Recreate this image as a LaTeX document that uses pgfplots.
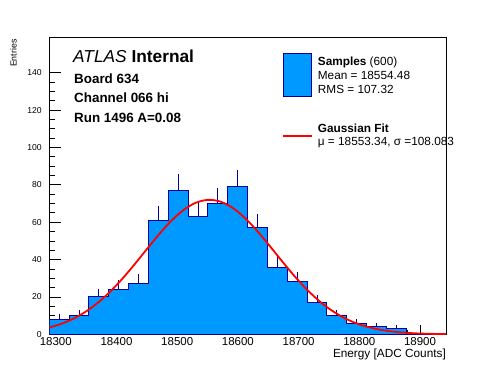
\documentclass[border=0pt]{standalone}
\usepackage{fontspec}
\setmainfont{Liberation Sans}
\usepackage{pgfplots}
\pgfplotsset{compat=1.18}
\definecolor{histfill}{RGB}{0,153,255}
\definecolor{histline}{RGB}{0,0,153}
\begin{document}
\begin{tikzpicture}
\path[use as bounding box] (0,0) rectangle (496bp,372bp);
\begin{axis}[
  at={(49.3bp,37.7bp)}, anchor=south west,
  scale only axis, width=396.7bp, height=297bp,
  xmin=18289.3, xmax=18942.8, ymin=0, ymax=159,
  axis line style={line width=0.8bp},
  tick align=inside, xtick pos=bottom, ytick pos=left,
  xtick={18300,18400,18500,18600,18700,18800,18900},
  ytick={0,20,40,60,80,100,120,140},
  minor x tick num=4, minor y tick num=3,
  major tick length=12bp, minor tick length=6bp,
  xtick style={/pgfplots/major tick length=9bp, /pgfplots/minor tick length=4.5bp},
  every tick/.style={black, line width=0.8bp},
  /pgf/number format/assume math mode=true,
  scaled x ticks=false,
  xticklabel={\pgfmathprintnumber[fixed,1000 sep={}]{\tick}},
  xticklabel style={font=\fontsize{11.5bp}{12bp}\selectfont},
  yticklabel style={font=\fontsize{8.6bp}{9bp}\selectfont, xshift=-4bp},
  clip=true,
]
% histogram (20 bins)
\addplot[const plot, fill=histfill, draw=histline, line width=1bp] coordinates {
(18289.300,8) (18321.975,10) (18354.650,20) (18387.325,24) (18420.000,27)
(18452.675,61) (18485.350,77) (18518.025,63) (18550.700,70) (18583.375,79)
(18616.050,57) (18648.725,36) (18681.400,28) (18714.075,17) (18746.750,10)
(18779.425,6) (18812.100,4) (18844.775,3) (18877.450,0) (18910.125,0)
(18942.800,0)} \closedcycle;
% error bars (upper half visible)
\addplot[draw=none, mark=none,
  error bars/.cd, y dir=plus, y explicit, error mark=none,
  error bar style={draw=histline, line width=1bp}]
  table[x=x, y=y, y error=e] {
x y e
18305.64 8 2.83
18338.31 10 3.16
18370.99 20 4.47
18403.66 24 4.90
18436.34 27 5.20
18469.01 61 7.81
18501.69 77 8.77
18534.36 63 7.94
18567.04 70 8.37
18599.71 79 8.89
18632.39 57 7.55
18665.06 36 6.00
18697.74 28 5.29
18730.41 17 4.12
18763.09 10 3.16
18795.76 6 2.45
18828.44 4 2.00
18861.11 3 1.73
};
% Gaussian fit
\addplot[red, line width=1.8bp, smooth] coordinates {
(18289,3.62) (18310,5.71) (18330,8.51) (18350,12.27) (18370,17.08)
(18390,22.98) (18410,29.88) (18430,37.54) (18450,45.59) (18470,53.48)
(18490,60.64) (18510,66.44) (18530,70.34) (18550,71.97) (18570,71.15)
(18590,67.98) (18610,62.76) (18630,55.99) (18650,48.27) (18670,40.21)
(18690,32.37) (18710,25.19) (18730,18.93) (18750,13.76) (18770,9.66)
(18790,6.55) (18810,4.29) (18830,2.72) (18850,1.66) (18870,0.98)
(18890,0.56) (18910,0.31) (18930,0.17) (18944,0.10)};
\end{axis}
% axis titles
\node[anchor=base east, inner sep=0pt, font=\fontsize{11.8bp}{12bp}\selectfont] at (446bp,15bp) {Energy [ADC Counts]};
\node[rotate=90, anchor=base east, inner sep=0pt, font=\fontsize{8.8bp}{9bp}\selectfont] at (16.5bp,332.7bp) {Entries};
% labels
\node[anchor=base west, inner sep=0pt, font=\fontsize{17.3bp}{18bp}\selectfont] at (73bp,309.7bp) {\textit{ATLAS} \textbf{Internal}};
\node[anchor=base west, inner sep=0pt, font=\fontsize{13.4bp}{14bp}\selectfont\bfseries] at (74bp,288.7bp) {Board 634};
\node[anchor=base west, inner sep=0pt, font=\fontsize{13.4bp}{14bp}\selectfont\bfseries] at (74bp,269.3bp) {Channel 066 hi};
\node[anchor=base west, inner sep=0pt, font=\fontsize{13.4bp}{14bp}\selectfont\bfseries] at (74bp,249.7bp) {Run 1496 A=0.08};
% legend
\fill[histfill, draw=histline, line width=1bp] (283.3bp,275.3bp) rectangle (311.7bp,318.7bp);
\node[anchor=base west, inner sep=0pt, font=\fontsize{11.8bp}{12bp}\selectfont] at (317.7bp,306bp) {\textbf{Samples} (600)};
\node[anchor=base west, inner sep=0pt, font=\fontsize{11.8bp}{12bp}\selectfont] at (317.7bp,292.7bp) {Mean = 18554.48};
\node[anchor=base west, inner sep=0pt, font=\fontsize{11.8bp}{12bp}\selectfont] at (317.7bp,278.7bp) {RMS = 107.32};
\draw[red, line width=1.8bp] (283.3bp,236bp) -- (311.7bp,236bp);
\node[anchor=base west, inner sep=0pt, font=\fontsize{11.8bp}{12bp}\selectfont\bfseries] at (317.7bp,239.3bp) {Gaussian Fit};
\node[anchor=base west, inner sep=0pt, font=\fontsize{11.8bp}{12bp}\selectfont] at (317.7bp,226bp) {μ = 18553.34, σ =108.083};
\end{tikzpicture}
\end{document}
